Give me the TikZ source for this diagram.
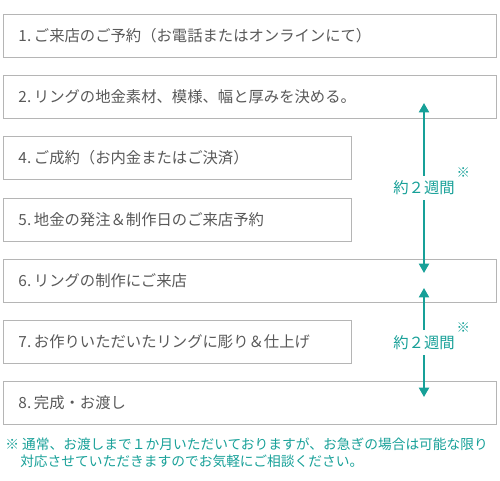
\documentclass[tikz,border=0pt]{standalone}
\usepackage{fontspec}
\setmainfont{Noto Sans CJK JP}
\usepackage{xcolor}
\usetikzlibrary{arrows.meta,positioning}
\definecolor{stepgray}{HTML}{B5B5B5}
\definecolor{steptext}{HTML}{595959}
\definecolor{tealmark}{HTML}{17A098}

\begin{document}
\begin{tikzpicture}[
  x=0.75pt, y=-0.75pt,
  font=\fontsize{11.5pt}{13pt}\selectfont,
  stepbox/.style={draw=stepgray, line width=0.75pt, fill=white, anchor=west, minimum height=32.25pt, inner xsep=11.25pt, align=left, text=steptext},
  widebox/.style={stepbox, minimum width=369.75pt, text width=347.25pt},
  shortbox/.style={stepbox, minimum width=261pt, text width=238.5pt},
  span/.style={draw=tealmark, line width=1.5pt, {Triangle[width=7.5pt,length=7pt]}-{Triangle[width=7.5pt,length=7pt]}},
  spanlab/.style={fill=white, text=tealmark, inner xsep=1pt, inner ysep=4pt,
    label={[font=\fontsize{10pt}{10pt}\selectfont, text=tealmark, anchor=south west, inner sep=0pt, xshift=-1pt, yshift=-3pt]north east:※}},
  note/.style={anchor=west, text=tealmark, inner sep=0pt, font=\fontsize{10.3pt}{11pt}\selectfont}
]
\useasboundingbox (0,0) rectangle (500,480);

% Steps.
\node[widebox] (s1) at (3,35.5) {1.\hspace{2pt}ご来店のご予約（お電話またはオンラインにて）};
\node[widebox] (s2) at (3,96.5) {2.\hspace{2pt}リングの地金素材、模様、幅と厚みを決める。};
\node[shortbox] (s4) at (3,157.5) {4.\hspace{2pt}ご成約（お内金またはご決済）};
\node[shortbox] (s5) at (3,219.5) {5.\hspace{2pt}地金の発注＆制作日のご来店予約};
\node[widebox] (s6) at (3,280.5) {6.\hspace{2pt}リングの制作にご来店};
\node[shortbox] (s7) at (3,341.5) {7.\hspace{2pt}お作りいただいたリングに彫り＆仕上げ};
\node[widebox] (s8) at (3,402.5) {8.\hspace{2pt}完成・お渡し};

% Durations.
\coordinate (a1) at (424,103);
\coordinate (b1) at (424,273);
\draw[span] (a1) -- (b1) node[midway, spanlab] (d1) {約２週間};
\coordinate (a2) at (424,288);
\coordinate (b2) at (424,397);
\draw[span] (a2) -- (b2) node[midway, spanlab] (d2) {約２週間};

% Footnote.
\node[note] (n1) at (5,444) {※ 通常、お渡しまで１か月いただいておりますが、お急ぎの場合は可能な限り};
\node[note] (n2) at (20,461) {対応させていただきますのでお気軽にご相談ください。};
\end{tikzpicture}
\end{document}
